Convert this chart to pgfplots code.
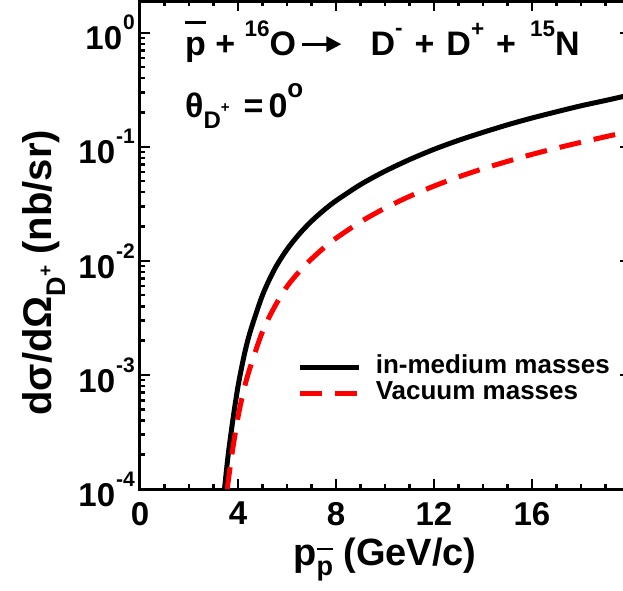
\documentclass[border=0pt]{standalone}
\usepackage{fontspec}
\setmainfont{Liberation Sans}
\usepackage{pgfplots}
\pgfplotsset{compat=1.18}
\usetikzlibrary{arrows.meta}
\newcommand\fs[1]{\fontsize{#1}{#1}\selectfont}
\newcommand\tenexp[1]{10\hspace{1pt}\raisebox{20pt}{\fs{21}#1}}
\newcommand\pbar{\makebox[0pt][l]{\raisebox{0.93em}{\rule{0.62em}{0.07em}}}p}
\begin{document}
\begin{tikzpicture}
\begin{axis}[
  scale only axis, width=490pt, height=488pt,
  xmin=0, xmax=20, ymin=1e-4, ymax=1.9, ymode=log,
  axis line style={line width=3pt},
  every tick/.style={black, line width=2.5pt},
  major tick length=10pt, minor tick length=5pt,
  tick align=inside,
  xtick={0,4,8,12,16}, xticklabels={0,4,8,12,16},
  minor xtick={1,2,3,5,6,7,9,10,11,13,14,15,17,18,19},
  ytick={1e-4,1e-3,1e-2,1e-1,1},
  yticklabels={\tenexp{-4},\tenexp{-3},\tenexp{-2},\tenexp{-1},\tenexp{0}},
  minor ytick={2e-4,3e-4,4e-4,5e-4,6e-4,7e-4,8e-4,9e-4,
               2e-3,3e-3,4e-3,5e-3,6e-3,7e-3,8e-3,9e-3,
               2e-2,3e-2,4e-2,5e-2,6e-2,7e-2,8e-2,9e-2,
               0.2,0.3,0.4,0.5,0.6,0.7,0.8,0.9},
  xticklabel style={font=\fs{33}\bfseries, inner sep=0pt, yshift=-13pt},
  yticklabel style={font=\fs{33}\bfseries, inner sep=0pt, xshift=-5pt},
  xlabel={p\raisebox{-10pt}{\fs{27}\pbar}\ (GeV/c)},
  xlabel style={font=\fs{38}\bfseries, inner sep=0pt, at={(axis description cs:0.5,0)}, anchor=base, yshift=-76pt},
  ylabel={dσ/dΩ\raisebox{-14pt}{\fs{27}D\raisebox{14pt}{\fs{19}+}}\ (nb/sr)},
  ylabel style={font=\fs{40}\bfseries, inner sep=0pt, at={([xshift=-88pt]axis description cs:0,0.443)}, anchor=base},
  legend style={at={(axis description cs:0.322,0.222)}, anchor=west, draw=none, fill=none,
    inner sep=0pt, outer sep=0pt, font=\fs{26}\bfseries, row sep=4pt,
    nodes={inner sep=0pt, text height=17pt, text depth=5pt},
    /tikz/every odd column/.append style={column sep=14pt}},
  legend image code/.code={\draw[#1] (0pt,0pt) -- (59pt,0pt);},
  legend cell align=left,
]
\addplot[black, line width=5pt, smooth] coordinates {
(3.45,1.0e-4) (3.6,2.0e-4) (3.8,4.17e-4) (4.0,7.94e-4) (4.25,1.48e-3)
(4.5,2.40e-3) (5.0,5.01e-3) (5.5,8.51e-3) (6.0,1.26e-2) (6.5,1.72e-2)
(7.0,2.23e-2) (7.5,2.78e-2) (8.0,3.37e-2) (9.0,4.67e-2) (10.0,6.12e-2)
(11.0,7.73e-2) (12.0,9.51e-2) (13.0,0.114) (14.0,0.134) (15.0,0.156)
(16.0,0.179) (17.0,0.203) (18.0,0.229) (19.0,0.255) (20.0,0.285)};
\addlegendentry{in-medium masses}
\addplot[red, line width=5pt, dash pattern=on 22pt off 13pt, smooth] coordinates {
(3.56,1.0e-4) (3.75,2.0e-4) (4.0,4.27e-4) (4.25,7.59e-4) (4.5,1.17e-3)
(5.0,2.40e-3) (5.5,3.98e-3) (6.0,5.96e-3) (6.5,8.05e-3) (7.0,1.04e-2)
(7.5,1.30e-2) (8.0,1.58e-2) (9.0,2.20e-2) (10.0,2.90e-2) (11.0,3.68e-2)
(12.0,4.53e-2) (13.0,5.45e-2) (14.0,6.43e-2) (15.0,7.46e-2) (16.0,8.59e-2)
(17.0,9.75e-2) (18.0,0.1096) (19.0,0.1227) (20.0,0.137)};
\addlegendentry{Vacuum masses}
\node[anchor=base west, inner sep=0pt, font=\fs{34}\bfseries] (t1) at (axis description cs:0.0918,0.889)
  {\pbar\ + \raisebox{19pt}{\fs{22.5}16}O};
\draw[line width=3pt, -{Triangle[length=15pt,width=15pt]}] ([xshift=6pt,yshift=11pt]t1.base east) -- ++(39pt,0pt);
\node[anchor=base west, inner sep=0pt, xshift=74pt, font=\fs{34}\bfseries] at (t1.base east)
  {D\raisebox{20pt}{\fs{22.5}-}\hspace{12pt}+\hspace{12pt}D\raisebox{19pt}{\fs{22.5}+}\hspace{12pt}+\hspace{14pt}\raisebox{19pt}{\fs{22.5}15}N};
\node[anchor=base west, inner sep=0pt, font=\fs{34}\bfseries] at (axis description cs:0.0918,0.7623)
  {θ\raisebox{-11pt}{\fs{24}D\raisebox{16pt}{\fs{15}+}}\hspace{14pt}=\hspace{5pt}0\raisebox{20pt}{\fs{26}o}};
\end{axis}
\pgfresetboundingbox
\path (-140pt,-101pt) rectangle (483pt,489pt);
\end{tikzpicture}
\end{document}
